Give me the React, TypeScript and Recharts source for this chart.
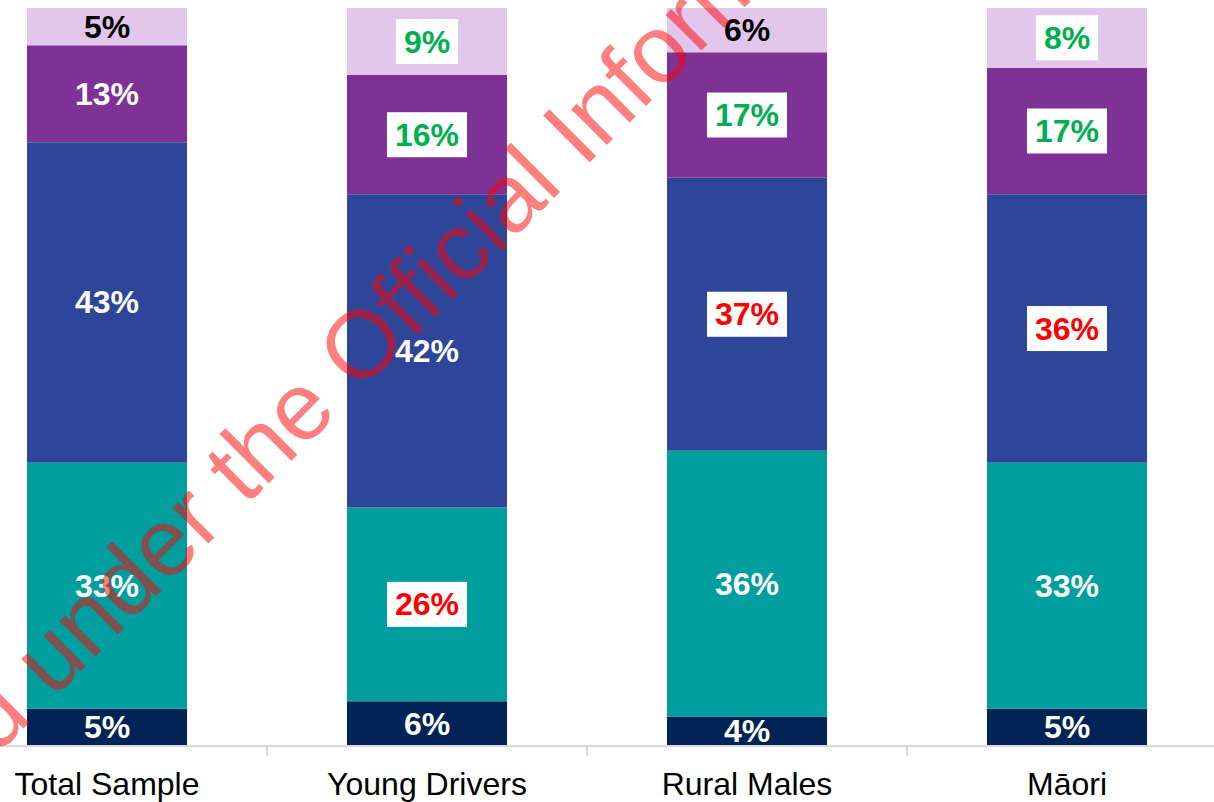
import React from "react";
import { BarChart, Bar, XAxis, YAxis, LabelList } from "recharts";

const categories = ["Total Sample", "Young Drivers", "Rural Males", "Māori"];

// segments from bottom to top, in %
const seg1 = [5, 6, 4, 5];
const seg2 = [33, 26, 36, 33];
const seg3 = [43, 42, 37, 36];
const seg4 = [13, 16, 17, 17];
const seg5 = [5, 9, 6, 8];

// significance vs total sample: "up" = green box, "down" = red box
const sig1 = ["", "", "", ""];
const sig2 = ["", "down", "", ""];
const sig3 = ["", "", "down", "down"];
const sig4 = ["", "up", "up", "up"];
const sig5 = ["", "up", "", "up"];

const data = categories.map((name, i) => ({
  name,
  seg1: seg1[i],
  seg2: seg2[i],
  seg3: seg3[i],
  seg4: seg4[i],
  seg5: seg5[i],
}));

const FONT = "'Liberation Sans', Arial, sans-serif";
const LABEL_SIZE = 32;

const makeLabel = (sig: string[], color: string) => (props: any) => {
  const { x, y, width, height, value, index } = props;
  const cx = Number(x) + Number(width) / 2;
  const cy = Number(y) + Number(height) / 2;
  const text = `${value}%`;
  const s = sig[index];
  const digits = String(value).length;
  const boxW = (digits * 0.556 + 0.889) * LABEL_SIZE + 16;
  const boxH = 45;
  const fill = s === "up" ? "#00B050" : s === "down" ? "#FF0000" : color;
  return (
    <g>
      {s && (
        <rect x={cx - boxW / 2} y={cy - boxH / 2} width={boxW} height={boxH} fill="#ffffff" />
      )}
      <text
        x={cx}
        y={cy}
        textAnchor="middle"
        dominantBaseline="central"
        fontFamily={FONT}
        fontWeight="bold"
        fontSize={LABEL_SIZE}
        fill={fill}
      >
        {text}
      </text>
    </g>
  );
};

const CategoryTick = (props: any) => {
  const { x, y, payload, index } = props;
  const half = payload.offset ?? 160;
  return (
    <g>
      <line x1={x + half} x2={x + half} y1={y} y2={y + 10} stroke="#d9d9d9" strokeWidth={2} />
      {index === 0 && (
        <line x1={x - half} x2={x - half} y1={y} y2={y + 10} stroke="#d9d9d9" strokeWidth={2} />
      )}
      <text
        x={x}
        y={y + 38}
        textAnchor="middle"
        dominantBaseline="central"
        fontFamily={FONT}
        fontSize={32}
        fill="#000000"
      >
        {payload.value}
      </text>
    </g>
  );
};

export default function App() {
  return (
    <div
      style={{
        position: "absolute",
        left: 0,
        top: 0,
        width: 1214,
        height: 802,
        overflow: "hidden",
        background: "#ffffff",
      }}
    >
      <div style={{ position: "absolute", left: -53, top: 0 }}>
        <BarChart
          width={1280}
          height={802}
          data={data}
          stackOffset="expand"
          margin={{ top: 8, right: 0, left: 0, bottom: 0 }}
        >
          <XAxis
            dataKey="name"
            height={56}
            axisLine={{ stroke: "#d9d9d9", strokeWidth: 2 }}
            tickLine={false}
            tickSize={0}
            tickMargin={0}
            interval={0}
            tick={<CategoryTick />}
          />
          <YAxis hide domain={[0, 1]} />
          <Bar dataKey="seg1" stackId="a" fill="#002355" barSize={160} isAnimationActive={false}>
            <LabelList dataKey="seg1" content={makeLabel(sig1, "#ffffff")} />
          </Bar>
          <Bar dataKey="seg2" stackId="a" fill="#009E9E" barSize={160} isAnimationActive={false}>
            <LabelList dataKey="seg2" content={makeLabel(sig2, "#ffffff")} />
          </Bar>
          <Bar dataKey="seg3" stackId="a" fill="#2E4699" barSize={160} isAnimationActive={false}>
            <LabelList dataKey="seg3" content={makeLabel(sig3, "#ffffff")} />
          </Bar>
          <Bar dataKey="seg4" stackId="a" fill="#7F3295" barSize={160} isAnimationActive={false}>
            <LabelList dataKey="seg4" content={makeLabel(sig4, "#ffffff")} />
          </Bar>
          <Bar dataKey="seg5" stackId="a" fill="#E2C6EC" barSize={160} isAnimationActive={false}>
            <LabelList dataKey="seg5" content={makeLabel(sig5, "#000000")} />
          </Bar>
        </BarChart>
      </div>
      <svg
        width={1214}
        height={802}
        style={{ position: "absolute", left: 0, top: 0, pointerEvents: "none" }}
      >
        <text
          x={-253}
          y={1005}
          transform="rotate(-45 -253 1005)"
          fontFamily={FONT}
          fontSize={96}
          fill="#ff0000"
          fillOpacity={0.5}
        >
          Released under the Official Information Act 1982
        </text>
      </svg>
    </div>
  );
}
